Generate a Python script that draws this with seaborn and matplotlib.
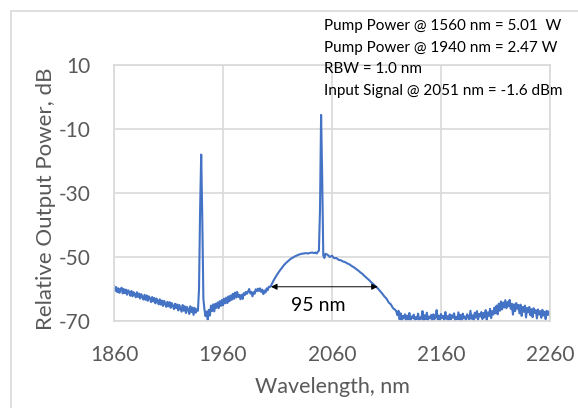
import numpy as np
import pandas as pd
import matplotlib
matplotlib.use("Agg")
import matplotlib.pyplot as plt
import seaborn as sns
from matplotlib.patches import Rectangle

# ---- data ----
wl_a = np.arange(1860, 1937, 1)
pw_a = [-59.0, -60.6, -59.4, -61.0, -59.8, -61.2, -60.0, -59.6, -61.4, -60.0,
        -61.3, -60.2, -61.8, -60.4, -61.0, -62.1, -60.6, -62.3, -61.0, -61.6,
        -62.6, -61.0, -62.5, -61.4, -63.0, -61.6, -62.4, -63.3, -61.8, -63.4,
        -62.0, -63.7, -62.3, -62.9, -64.1, -62.5, -63.9, -62.8, -64.5, -63.0,
        -63.6, -64.8, -63.2, -64.9, -63.6, -65.3, -63.7, -64.6, -65.6, -64.0,
        -65.4, -64.1, -65.9, -64.4, -65.2, -66.3, -64.6, -66.0, -64.8, -66.7,
        -65.0, -66.0, -67.1, -65.0, -66.8, -65.4, -67.5, -65.6, -66.4, -67.8,
        -65.4, -67.2, -65.8, -68.1, -65.9, -67.4, -66.3]

wl_pump = [1937, 1938, 1939, 1940, 1941, 1942, 1943, 1944, 1945, 1946, 1947]
pw_pump = [-66.8, -60.0, -35.0, -18.0, -38.0, -63.0, -66.5, -68.5, -67.0, -69.6, -66.5]

wl_b1 = np.arange(1948, 2004, 1)
pw_b1 = [-68.3, -65.2, -66.9, -64.8, -67.0, -64.6, -65.9, -64.2, -66.0, -63.8,
         -65.3, -63.4, -65.1, -63.0, -64.5, -62.7, -64.4, -62.3, -63.8, -62.0,
         -63.4, -61.5, -63.1, -61.1, -62.7, -60.9, -62.5, -61.8, -63.2, -61.8,
         -63.1, -61.3, -61.9, -60.9, -61.5, -60.8, -60.0, -61.4, -60.9, -62.3,
         -61.0, -61.5, -60.1, -60.7, -59.9, -60.6, -59.8, -60.9, -60.2, -61.6,
         -60.5, -61.1, -59.8, -60.4, -59.3, -59.4]

wl_b2 = np.arange(2004, 2045, 2)
pw_b2 = [-59.0, -57.6, -56.4, -55.3, -54.3, -53.4, -52.5, -51.8, -51.2, -50.6,
         -50.2, -49.8, -49.5, -49.2, -49.0, -48.9, -48.8, -48.9, -48.7, -48.6,
         -48.8]

wl_sig = [2045, 2046, 2047, 2048, 2049, 2050, 2051, 2052, 2053, 2054]
pw_sig = [-48.6, -48.9, -48.4, -48.0, -35.0, -5.6, -25.0, -49.5, -50.3, -49.0]

wl_c1 = np.arange(2056, 2119, 2)
pw_c1 = [-49.3, -50.0, -49.6, -50.4, -50.3, -50.9, -51.0, -51.4, -51.6, -52.0,
         -52.3, -52.8, -53.2, -53.7, -54.2, -54.8, -55.3, -56.0, -56.6, -57.2,
         -57.9, -58.5, -59.2, -59.8, -60.6, -61.4, -62.3, -63.0, -64.2, -64.8,
         -66.0, -66.5]

wl_c2 = np.arange(2119, 2261, 1)
pw_c2 = [-67.0, -68.2, -66.8, -69.5, -67.6, -70.0, -68.4, -69.2, -67.9, -69.8,
         -68.3, -69.6, -67.5, -69.9, -68.6, -69.1, -68.0, -69.7, -68.8, -69.4,
         -67.7, -69.8, -68.9, -69.3, -66.9, -69.9, -68.2, -69.5, -67.4, -69.7,
         -68.6, -69.2, -68.1, -69.8, -67.9, -69.4, -68.7, -66.6, -69.6, -68.3,
         -69.9, -67.8, -69.1, -68.4, -69.7, -67.2, -69.3, -68.5, -69.8, -67.9,
         -69.5, -68.2, -69.0, -67.6, -69.8, -68.7, -69.4, -67.3, -69.6, -68.1,
         -69.9, -67.7, -69.2, -68.6, -69.7, -67.9, -68.8, -69.5, -66.8, -69.3,
         -68.2, -69.8, -67.4, -69.0, -66.9, -69.6, -67.8, -68.6, -67.2, -69.4,
         -67.5, -68.9, -66.6, -69.7, -67.3, -68.4, -66.2, -69.1, -66.9, -68.0,
         -65.8, -67.6, -65.2, -67.9, -64.6, -66.8, -63.9, -66.4, -64.2, -65.8,
         -63.5, -66.0, -64.1, -65.4, -63.4, -66.2, -64.6, -68.0, -64.8, -66.9,
         -64.4, -66.2, -65.0, -67.6, -64.9, -68.4, -65.6, -67.1, -65.2, -68.9,
         -65.9, -67.3, -65.6, -68.2, -66.3, -68.8, -66.0, -67.5, -66.6, -69.2,
         -66.4, -68.0, -66.9, -69.0, -66.5, -68.3, -67.1, -69.4, -66.8, -68.1,
         -67.0, -68.5]

x_ticks = [1860, 1960, 2060, 2160, 2260]
y_ticks = [10, -10, -30, -50, -70]
notes = ["Pump Power @ 1560 nm = 5.01  W",
         "Pump Power @ 1940 nm = 2.47 W",
         "RBW = 1.0 nm",
         "Input Signal @ 2051 nm = -1.6 dBm"]
span_start, span_end, span_level = 2004, 2102, -59.3
span_label = "95 nm"

df = pd.DataFrame({
    "wl": np.concatenate([wl_a, wl_pump, wl_b1, wl_b2, wl_sig, wl_c1, wl_c2]),
    "pw": np.concatenate([pw_a, pw_pump, pw_b1, pw_b2, pw_sig, pw_c1, pw_c2]),
})

sns.set_style("white")
plt.rcParams["font.family"] = ["Lato", "DejaVu Sans"]
plt.rcParams["axes.unicode_minus"] = False

fig = plt.figure(figsize=(5.78, 4.08), dpi=100)
ax = fig.add_axes([114/578, 1-321/408, 436/578, 256/408])

grid_c = "#D9D9D9"
text_c = "#595959"

sns.lineplot(data=df, x="wl", y="pw", ax=ax, color="#4472C4", lw=1.5,
             sort=False, estimator=None)

ax.set_xlim(1860, 2260)
ax.set_ylim(-70, 10)
ax.set_xticks(x_ticks)
ax.set_yticks(y_ticks)
ax.grid(True, color=grid_c, lw=1.2)
ax.set_axisbelow(True)
for s in ax.spines.values():
    s.set_color(grid_c)
    s.set_linewidth(1.2)
ax.tick_params(length=0, labelsize=15, colors=text_c)
ax.tick_params(axis="x", pad=17)
ax.tick_params(axis="y", pad=17)
ax.set_xlabel("Wavelength, nm", fontsize=15.5, color=text_c, labelpad=9)
ax.set_ylabel("Relative Output Power, dB", fontsize=16, color=text_c)
ax.yaxis.set_label_coords(-0.132, 0.477)

ax.annotate("", xy=(span_start, span_level), xytext=(span_end, span_level),
            arrowprops=dict(arrowstyle="<|-|>", color="black", lw=0.7,
                            mutation_scale=9, shrinkA=0, shrinkB=0))
ax.text(2047, -65.2, span_label, fontsize=14, color="black",
        ha="center", va="center")

for i, line in enumerate(notes):
    fig.text(324/578, 1 - (26 + i*21.7)/408, line, fontsize=11,
             color="black", ha="left", va="center")

fig.patches.append(Rectangle((11/578, -0.05), 1.1, 1 - 11/408 + 0.05,
                             transform=fig.transFigure, fill=False,
                             edgecolor=grid_c, lw=1.2))

fig.savefig("out.png", dpi=100)
